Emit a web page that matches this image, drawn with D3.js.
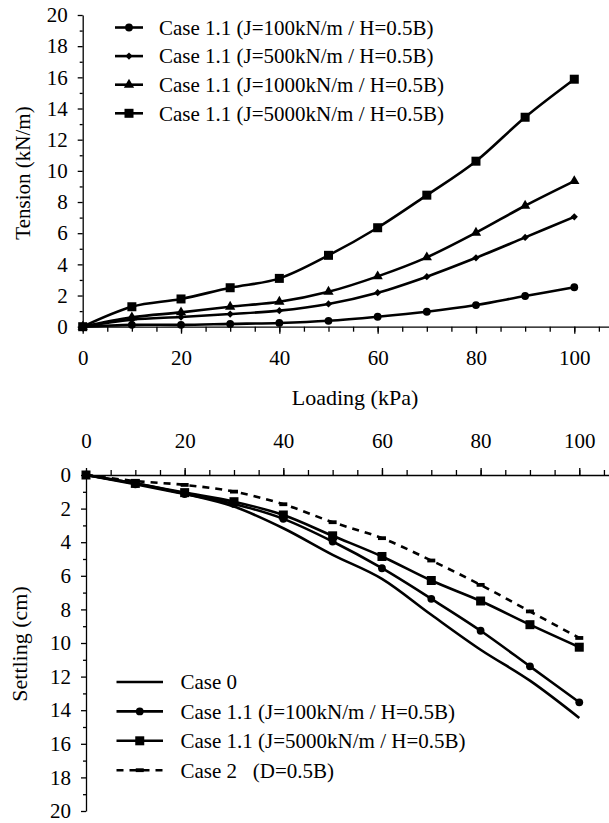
<!DOCTYPE html>
<html>
<head>
<meta charset="utf-8">
<script src="https://cdn.jsdelivr.net/npm/d3@7"></script>
<style>
    body { margin: 0; background: #fff; }
    svg { display: block; font-family: "Liberation Serif", "Times New Roman", serif; }
    .axis path, .axis line { stroke: #000; stroke-width: 1.3; }
    .axis text { font-size: 21px; fill: #000; }
    text { font-family: "Liberation Serif", "Times New Roman", serif; fill: #000; }
</style>
</head>
<body>
<svg width="609" height="823"></svg>
<script>
// x values shared by both panels (kPa)
const loading = [0, 10, 20, 30, 40, 50, 60, 70, 80, 90, 100];

// top panel - tension in the reinforcement (kN/m)
const tensionJ100 = [0, 0.12, 0.12, 0.18, 0.24, 0.38, 0.64, 0.96, 1.39, 1.97, 2.53];
const tensionJ500 = [0, 0.45, 0.62, 0.81, 1.03, 1.46, 2.18, 3.21, 4.42, 5.73, 7.05];
const tensionJ1000 = [0, 0.6, 0.92, 1.28, 1.6, 2.24, 3.23, 4.45, 6.03, 7.76, 9.34];
const tensionJ5000 = [0, 1.28, 1.78, 2.5, 3.1, 4.58, 6.35, 8.44, 10.62, 13.44, 15.88];

// bottom panel - settling (cm)
const settleCase0 = [0, 0.5, 1.12, 1.88, 3.17, 4.75, 6.18, 8.32, 10.4, 12.24, 14.46];
const settleJ100 = [0, 0.55, 1.13, 1.72, 2.61, 3.96, 5.55, 7.37, 9.27, 11.39, 13.53];
const settleJ5000 = [0, 0.5, 1.05, 1.59, 2.38, 3.62, 4.85, 6.28, 7.5, 8.91, 10.25];
const settleCase2 = [0, 0.36, 0.59, 0.99, 1.74, 2.81, 3.76, 5.09, 6.54, 8.12, 9.7];

// ticks
const xTickLabels = [0, 20, 40, 60, 80, 100];
const xMinorTicks = d3.range(0, 106, 5);
const yTickLabels = [0, 2, 4, 6, 8, 10, 12, 14, 16, 18, 20];
const yMinorTicks = d3.range(1, 20, 2);

const topNames = [
    'Case 1.1 (J=100kN/m / H=0.5B)',
    'Case 1.1 (J=500kN/m / H=0.5B)',
    'Case 1.1 (J=1000kN/m / H=0.5B)',
    'Case 1.1 (J=5000kN/m / H=0.5B)'
];
const bottomNames = ['Case 0', 'Case 1.1 (J=100kN/m / H=0.5B)', 'Case 1.1 (J=5000kN/m / H=0.5B)', 'Case 2'];

const FONT = '"Liberation Serif", "Times New Roman", serif';
const svg = d3.select('svg');

let xTop = d3.scaleLinear().domain([0, 107]).range([82.7, 608.7]);
let yTop = d3.scaleLinear().domain([0, 20]).range([326.7, 15]);
let xBot = d3.scaleLinear().domain([0, 107]).range([86, 613.8]);
let yBot = d3.scaleLinear().domain([0, 20]).range([475, 811]);

let line = (x, y) => d3.line()
    .x(d => x(d[0]))
    .y(d => y(d[1]))
    .curve(d3.curveCatmullRom.alpha(0));

// markers
function marker(g, type, cx, cy) {
    if (type === 'circle') {
        g.append('circle').attr('cx', cx).attr('cy', cy).attr('r', 3.9);
    } else if (type === 'square') {
        g.append('rect').attr('x', cx - 4.5).attr('y', cy - 4.5).attr('width', 9).attr('height', 9);
    } else if (type === 'diamond') {
        g.append('path').attr('d', d3.symbol(d3.symbolSquare, 26)())
            .attr('transform', `translate(${cx},${cy}) rotate(45)`);
    } else if (type === 'triangle') {
        g.append('path').attr('d', d3.symbol(d3.symbolTriangle, 46)())
            .attr('transform', `translate(${cx},${cy})`);
    } else if (type === 'dash') {
        g.append('rect').attr('x', cx - 4).attr('y', cy - 1.9).attr('width', 8).attr('height', 3.8);
    }
}

function drawSeries(x, y, vals, type, dashed) {
    let pts = loading.map((l, i) => [l, vals[i]]);
    let g = svg.append('g').attr('fill', '#000');
    g.append('path')
        .attr('d', line(x, y)(pts))
        .attr('fill', 'none')
        .attr('stroke', '#000')
        .attr('stroke-width', 2.6)
        .attr('stroke-dasharray', dashed ? '7,6' : null);
    if (type) pts.forEach(p => marker(g, type, x(p[0]), y(p[1])));
}

function drawAxes(x, y, top) {
    let x0 = x(0), yZero = y(0);
    // minor x ticks every 5
    let xMinor = (top ? d3.axisTop(x) : d3.axisBottom(x))
        .tickValues(xMinorTicks).tickSize(5).tickSizeOuter(0).tickFormat('');
    svg.append('g').attr('class', 'axis')
        .attr('transform', `translate(0,${yZero})`)
        .call(xMinor);
    let xMajor = (top ? d3.axisTop(x) : d3.axisBottom(x))
        .tickValues(xTickLabels).tickSize(7).tickPadding(top ? 20 : 16);
    let gx = svg.append('g').attr('class', 'axis')
        .attr('transform', `translate(0,${yZero})`)
        .call(xMajor);
    gx.select('.domain').remove();

    let yMinor = d3.axisLeft(y).tickValues(yMinorTicks).tickSize(3).tickSizeOuter(0).tickFormat('');
    svg.append('g').attr('class', 'axis')
        .attr('transform', `translate(${x0},0)`)
        .call(yMinor);
    let yMajor = d3.axisLeft(y).tickValues(yTickLabels).tickSize(5).tickPadding(10);
    let gy = svg.append('g').attr('class', 'axis')
        .attr('transform', `translate(${x0},0)`)
        .call(yMajor);
    gy.select('.domain').remove();
    svg.selectAll('.axis').attr('font-family', FONT).attr('font-size', 21);
    svg.selectAll('.axis text').style('font-family', FONT);
}

// top panel
drawAxes(xTop, yTop, false);
drawSeries(xTop, yTop, tensionJ100, 'circle');
drawSeries(xTop, yTop, tensionJ500, 'diamond');
drawSeries(xTop, yTop, tensionJ1000, 'triangle');
drawSeries(xTop, yTop, tensionJ5000, 'square');

// bottom panel
drawAxes(xBot, yBot, true);
drawSeries(xBot, yBot, settleCase2, 'dash', true);
drawSeries(xBot, yBot, settleCase0, null);
drawSeries(xBot, yBot, settleJ100, 'circle');
drawSeries(xBot, yBot, settleJ5000, 'square');

// titles
svg.append('text')
    .attr('transform', 'translate(30,173) rotate(-90)')
    .attr('text-anchor', 'middle').attr('font-size', 21)
    .style('font-family', FONT)
    .text('Tension (kN/m)');
svg.append('text')
    .attr('transform', 'translate(27,644) rotate(-90)')
    .attr('text-anchor', 'middle').attr('font-size', 22)
    .style('font-family', FONT)
    .text('Settling (cm)');
svg.append('text')
    .attr('x', 355).attr('y', 405)
    .attr('text-anchor', 'middle').attr('font-size', 22)
    .style('font-family', FONT)
    .text('Loading (kPa)');

// legends
function legend(x1, x2, tx, y0, step, names, types, dashes) {
    let g = svg.append('g').attr('fill', '#000');
    names.forEach((n, i) => {
        let yy = y0 + i * step;
        g.append('line')
            .attr('x1', x1).attr('x2', x2).attr('y1', yy).attr('y2', yy)
            .attr('stroke', '#000').attr('stroke-width', 2.6)
            .attr('stroke-dasharray', dashes && dashes[i] ? '7,6' : null);
        if (types[i]) marker(g, types[i], (x1 + x2) / 2, yy);
        g.append('text').attr('x', tx).attr('y', yy).attr('dy', '0.35em')
            .attr('font-size', 21).style('font-family', FONT).text(n);
    });
    return g;
}

legend(115, 143, 159, 27.5, 28.6, topNames, ['circle', 'diamond', 'triangle', 'square']);
let lg = legend(116.5, 163, 180.5, 682, 29.4, bottomNames, [null, 'circle', 'square', 'dash'], [false, false, false, true]);

// "(D=0.5B)" lines up with the "(J=..." of the rows above
let probe = lg.append('text').attr('font-size', 21).style('font-family', FONT).text('Case 1.1 ');
let offset = probe.node().getComputedTextLength();
probe.remove();
lg.append('text').attr('x', 180.5 + offset).attr('y', 682 + 3 * 29.4).attr('dy', '0.35em')
    .attr('font-size', 21).style('font-family', FONT).text('(D=0.5B)');
</script>
</body>
</html>
